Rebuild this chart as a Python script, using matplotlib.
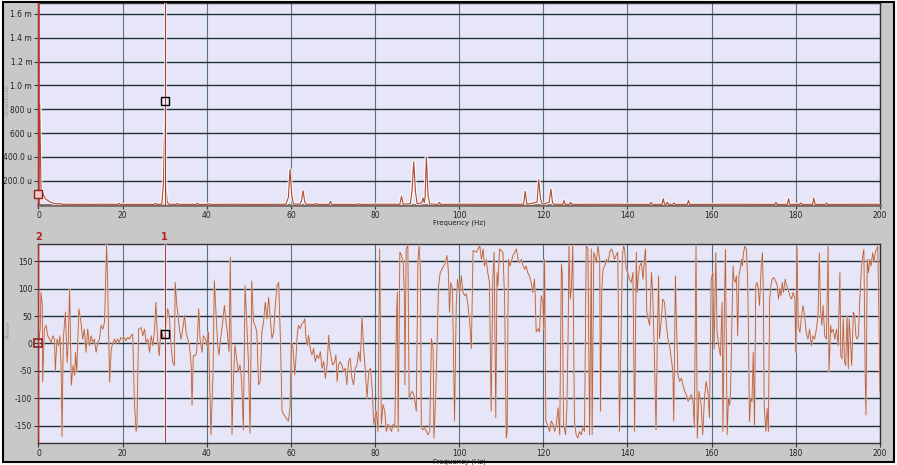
import matplotlib
matplotlib.use("Agg")
import matplotlib.pyplot as plt
from matplotlib.patches import Rectangle
from matplotlib.transforms import blended_transform_factory

# --- chart data ---
freq_ticks = [0, 20, 40, 60, 80, 100, 120, 140, 160, 180, 200]
mag_ticks = [200, 400, 600, 800, 1000, 1200, 1400, 1600]  # micro units
mag_tick_labels = ['200.0 u', '400.0 u', '600 u', '800 u', '1.0 m', '1.2 m', '1.4 m', '1.6 m']
phase_ticks = [-150, -100, -50, 0, 50, 100, 150]

# amplitude spectrum, micro units
mag_freq = [0.0, 0.3, 0.6, 0.9, 1.2, 1.5, 1.8, 2.2, 2.6, 3.0, 3.5, 4.0, 4.5, 5.0, 5.5, 6.5, 8.0,
            10.0, 12.0, 15.0, 18.0, 18.9, 19.2, 19.5, 24.0, 27.5, 27.8, 28.1, 29.3, 29.7, 30.0,
            30.3, 30.6, 31.0, 32.7, 33.0, 33.3, 37.5, 37.8, 38.1, 40.2, 40.5, 40.8, 47.0, 52.0,
            58.8, 59.4, 59.8, 60.2, 60.6, 62.1, 62.5, 62.9, 63.3, 63.7, 65.6, 65.9, 66.2, 69.1,
            69.4, 69.7, 75.8, 76.1, 76.4, 80.0, 85.9, 86.3, 86.7, 88.4, 88.8, 89.2, 89.6, 90.0,
            91.1, 91.4, 91.7, 91.9, 92.2, 92.6, 93.0, 95.0, 95.3, 95.6, 100.0, 110.0, 115.3, 115.7,
            116.1, 118.5, 118.9, 119.3, 119.6, 120.0, 121.4, 121.8, 122.2, 122.6, 124.6, 124.9,
            125.2, 126.2, 126.5, 126.8, 135.0, 145.3, 145.6, 145.9, 148.2, 148.5, 148.8, 149.2,
            149.5, 149.8, 150.8, 151.1, 151.4, 154.2, 154.5, 154.8, 165.0, 175.0, 175.3, 175.6,
            178.0, 178.3, 178.6, 180.9, 181.2, 181.5, 184.0, 184.3, 184.6, 187.0, 187.3, 187.6,
            200.0]
mag_val = [85, 840, 130, 110, 80, 60, 45, 35, 25, 18, 12, 8, 6, 10, 4, 3, 2,
           3, 2, 3, 2, 2, 10, 2, 2, 2, 12, 2, 3, 180, 660,
           150, 20, 3, 2, 10, 2, 2, 12, 2, 2, 8, 2, 3, 2,
           3, 60, 297, 80, 5, 3, 30, 117, 20, 3, 2, 10, 2, 2,
           28, 2, 2, 8, 2, 3, 3, 70, 3, 8, 120, 360, 110, 8,
           15, 55, 15, 60, 400, 80, 5, 2, 20, 2, 3, 2, 3, 110,
           3, 20, 210, 60, 15, 3, 20, 130, 15, 3, 2, 35,
           2, 2, 20, 2, 3, 2, 20, 2, 2, 50, 5, 2,
           20, 2, 2, 15, 2, 2, 35, 2, 3, 2, 20, 2,
           2, 50, 2, 2, 15, 2, 2, 55, 2, 2, 15, 2,
           3]

# phase spectrum, degrees
phase_freq = [0.0, 0.4, 0.6, 0.9, 1.0, 1.4, 1.8, 2.2, 2.6, 3.0, 3.4, 3.8, 4.0, 4.4, 4.8, 5.1, 5.4,
              5.6, 5.9, 6.4, 6.8, 7.1, 7.4, 7.8, 8.2, 8.6, 8.8, 9.1, 9.6, 10.1, 10.5, 10.9, 11.3,
              11.7, 12.1, 12.5, 12.9, 13.3, 13.7, 14.1, 14.5, 14.9, 15.3, 15.7, 16.2, 16.5, 16.9,
              17.3, 17.7, 18.1, 18.4, 18.8, 19.2, 19.6, 20.0, 20.4, 20.8, 21.2, 21.6, 22.0, 22.4,
              22.8, 23.2, 23.4, 23.8, 24.4, 24.8, 25.2, 25.6, 26.0, 26.4, 26.8, 27.2, 27.6, 27.9,
              28.3, 28.7, 29.1, 29.5, 29.9, 30.3, 30.7, 31.1, 31.5, 31.9, 32.3, 32.5, 32.9, 33.1,
              33.5, 33.9, 34.3, 34.7, 35.1, 35.5, 35.9, 36.3, 36.5, 36.8, 37.3, 37.6, 38.1, 38.4,
              38.9, 39.2, 39.7, 40.0, 40.4, 41.0, 41.5, 41.8, 42.1, 42.6, 42.9, 43.3, 43.7, 44.2,
              44.5, 44.8, 45.3, 45.6, 46.0, 46.3, 46.7, 47.1, 47.5, 47.9, 48.3, 48.7, 49.1, 49.5,
              49.9, 50.3, 50.7, 51.1, 51.5, 51.9, 52.3, 52.7, 53.1, 53.5, 53.9, 54.3, 54.7, 55.1,
              55.5, 55.9, 56.3, 56.7, 57.1, 57.5, 57.9, 58.3, 58.8, 59.4, 59.8, 60.1, 60.5, 60.9,
              61.2, 61.5, 61.8, 62.2, 62.6, 63.0, 63.3, 63.6, 63.9, 64.2, 64.6, 65.0, 65.4, 65.8,
              66.2, 66.6, 67.0, 67.4, 67.8, 68.2, 68.6, 69.0, 69.2, 69.6, 69.9, 70.4, 70.7, 71.0,
              71.3, 71.7, 72.1, 72.5, 72.9, 73.3, 73.7, 74.1, 74.5, 74.9, 75.3, 75.7, 76.1, 76.5,
              76.9, 77.3, 77.7, 78.1, 78.5, 78.9, 79.3, 79.7, 80.3, 80.7, 81.1, 81.5, 81.9, 82.3,
              82.7, 83.1, 83.5, 83.9, 84.3, 84.7, 85.1, 85.3, 85.5, 85.9, 86.3, 86.7, 87.0, 87.1,
              87.4, 87.8, 88.1, 88.4, 88.8, 89.2, 89.6, 89.8, 90.2, 90.5, 90.8, 91.0, 91.4, 91.8,
              92.2, 92.6, 93.0, 93.4, 93.8, 94.0, 94.4, 94.8, 95.1, 95.5, 95.9, 96.3, 96.7, 97.1,
              97.4, 97.7, 98.0, 98.4, 98.9, 99.3, 99.6, 100.1, 100.5, 100.9, 101.3, 101.7, 102.1,
              102.5, 102.9, 103.3, 104.1, 104.9, 105.3, 105.7, 106.0, 106.4, 106.8, 107.2, 107.6,
              108.0, 108.3, 108.7, 109.0, 109.2, 109.6, 110.0, 110.4, 110.8, 111.2, 111.4, 111.7,
              112.1, 112.8, 113.2, 113.6, 114.0, 114.4, 114.8, 115.2, 115.6, 115.9, 116.3, 116.7,
              117.1, 117.5, 117.9, 118.1, 118.3, 118.7, 119.1, 119.5, 119.9, 120.1, 120.3, 120.6,
              120.9, 121.5, 121.9, 122.3, 122.7, 123.1, 123.5, 123.9, 124.3, 124.5, 124.8, 125.3,
              125.6, 125.9, 126.1, 126.4, 126.7, 127.0, 127.4, 127.8, 128.2, 128.6, 129.0, 129.4,
              129.8, 130.2, 130.6, 130.8, 131.0, 131.4, 131.6, 132.0, 132.2, 132.6, 133.0, 133.4,
              133.6, 133.9, 134.2, 134.6, 135.0, 135.4, 135.8, 136.2, 136.5, 136.9, 137.3, 137.7,
              138.1, 138.8, 139.1, 139.3, 139.7, 140.1, 140.5, 140.9, 141.3, 141.7, 142.1, 142.3,
              142.6, 142.9, 143.3, 143.7, 144.1, 144.3, 144.6, 144.9, 145.3, 145.7, 146.0, 146.4,
              146.8, 147.1, 147.4, 147.6, 148.0, 148.4, 148.8, 149.2, 149.6, 150.0, 150.4, 150.8,
              151.0, 151.4, 151.6, 152.0, 152.4, 152.8, 153.2, 153.6, 154.0, 154.4, 154.8, 155.2,
              155.6, 155.9, 156.3, 156.6, 157.0, 157.5, 157.9, 158.3, 158.7, 159.1, 159.5, 159.9,
              160.3, 160.6, 161.0, 161.3, 161.7, 162.1, 162.5, 162.7, 163.1, 163.3, 163.7, 164.0,
              164.3, 164.5, 164.8, 165.1, 165.3, 165.6, 165.9, 166.2, 166.5, 166.8, 167.1, 167.3,
              167.6, 167.9, 168.3, 168.6, 168.8, 169.0, 169.3, 169.6, 169.9, 170.2, 170.5, 170.8,
              171.1, 171.4, 171.8, 172.1, 172.3, 172.5, 172.9, 173.2, 173.5, 173.8, 174.1, 174.4,
              174.8, 175.2, 175.6, 175.9, 176.2, 176.5, 176.8, 177.1, 177.5, 177.8, 178.2, 178.6,
              179.0, 179.4, 179.8, 180.0, 180.3, 180.6, 181.0, 181.3, 181.7, 182.1, 182.5, 182.9,
              183.3, 183.7, 184.1, 184.5, 184.9, 185.3, 185.6, 185.9, 186.2, 186.5, 186.9, 187.3,
              187.7, 187.9, 188.3, 188.5, 188.9, 189.3, 189.7, 190.1, 190.5, 190.7, 191.0, 191.3,
              191.6, 191.9, 192.2, 192.5, 192.7, 193.0, 193.3, 193.7, 194.0, 194.3, 194.6, 194.9,
              195.2, 195.6, 195.9, 196.2, 196.5, 196.7, 197.0, 197.3, 197.6, 197.9, 198.3, 198.6,
              198.9, 199.2, 199.5, 199.8, 200.0]
phase_deg = [0, 26, 93, 69, -70, 26, 33, 14, 8, 2, 14, 8, -49, 8, -4, 14, -46,
             -169, 8, 57, -34, 8, 99, -76, -40, -58, -16, -52, 63, 39, 8, 26, -16,
             26, -4, 14, 2, 8, -16, 2, 8, 33, 26, 39, 180, 87, -70,
             -10, 2, 8, 0, 8, 2, 11, 8, 11, 5, 11, 8, 14, 17,
             -106, -160, -148, 26, 29, 14, 26, 2, 8, -16, 14, -4, 26, 75,
             8, -22, 26, 14, 8, 33, 63, 51, -4, -34, -40, 111, 69, 57,
             26, 8, 26, 51, 20, 8, -4, -40, -112, -22, -22, -16, 63, 8,
             -16, 14, 8, -4, 21, -166, -51, 114, 69, -3, -21, 9, 33, 69,
             45, 27, -15, 157, -166, -75, -3, -27, -51, -39, -69, -157, 105, 39,
             -33, -163, 114, 39, 33, 21, -75, -69, 21, 39, 75, 45, 84, 45,
             9, 21, 69, 105, 111, 9, -123, -129, -135, -141, -117, 3, -9, -57,
             -27, 15, 33, 27, 36, 39, 45, 9, -3, 15, -9, -21, -9, -33,
             -21, -27, -15, -45, -33, -63, -39, 15, -9, -27, -39, -33, -21, -69,
             -39, -33, -39, -51, -45, -75, -33, -27, -63, -75, -45, -39, -15, -33,
             48, -9, -51, -99, -51, -45, -81, -147, -123, -160, 172, -147, -111, -123,
             -160, -147, -153, -160, -147, -153, 51, 93, -160, 166, 160, 147, 81, -75,
             172, 178, -99, -93, -87, -93, -111, -123, 153, 178, 129, -153, -157, -153,
             -160, -166, -160, 9, -9, -172, -99, 21, 105, 129, 135, 141, 147, 160,
             135, 57, 111, 99, -141, 69, 117, 93, 123, 93, 87, 90, 69,
             39, -9, 169, 166, 178, 153, 172, 141, 153, 129, 111, -123,
             117, 166, -135, 129, 105, 172, 169, 166, 81, -172, -160, 153,
             141, 160, 166, 172, 153, 147, 153, 141, 135, 141, 129, 123,
             111, 93, 117, 81, 21, 27, 21, 87, 75, 27, 153, -141,
             -147, -160, -141, -147, -160, -147, -117, -166, 144, 129, -147, -166,
             -117, 21, 178, 81, 105, 178, -141, -166, -172, -160, -166, -153,
             -160, 178, 172, -3, -166, 172, -166, 166, 160, 147, 178, 153,
             -123, 99, 135, 141, 153, 147, 166, 172, 166, 153, 160, 166,
             -160, 160, 178, 172, 135, 129, 117, 111, 129, -160, 166, 93,
             123, 141, 147, 117, 160, 172, 57, 45, 33, 129, 93, -21,
             -157, 9, 123, 9, 39, 81, 75, 39, 9, -3, -27, -51,
             -141, 123, 51, -57, -69, -63, -75, -87, -93, -105, -99, -93,
             -105, -153, 178, -172, -87, -111, -166, -99, -69, -87, -135, 117,
             129, -10, 165, 20, -4, -22, 75, -160, 93, 171, -166, -100,
             -112, -88, 26, 141, 117, 111, 123, 14, 123, 135, 153, 141,
             165, 177, 171, 105, -4, -142, -100, -106, -16, -148, 105, 111,
             99, 69, 141, 165, 93, -112, -160, -118, -160, 81, 105, 117,
             120, 114, 105, 81, 99, 87, 111, 93, 117, 105, 99, 87,
             81, 93, 81, -16, 177, 33, 20, 45, 69, 51, 20, 8,
             26, -4, 14, 8, 26, 51, 165, 63, 33, 69, 14, 8,
             177, -52, 33, 20, 26, 8, 26, -4, 129, -22, -28, 45,
             -34, -40, 51, -46, 45, 8, -40, 57, 51, 14, 8, 14,
             75, 135, 159, 171, -52, -130, 153, 129, 153, 141, 165, 147,
             165, 171, 177, 39, -88]

# cursors: 1 at 30 Hz, 2 at 0 Hz
cursor_names = ['1', '2']
cursor_freq = [30, 0]
cursor_mag = [870, 85]
cursor_phase = [18, 0]

BG = '#e6e6f8'
TRACE = '#b04a33'
PHASE = '#b8603f'
HGRID = '#1f3236'
VGRID = '#56767c'
TXT = '#222222'


def style_axes(ax, yticks, yticklabels):
    ax.set_facecolor(BG)
    ax.set_xlim(0, 200)
    ax.set_xticks(freq_ticks)
    ax.set_xticklabels([str(t) for t in freq_ticks])
    ax.set_yticks(yticks)
    ax.set_yticklabels(yticklabels)
    ax.xaxis.grid(True, color=VGRID, lw=0.8)
    ax.yaxis.grid(True, color=HGRID, lw=1.0)
    ax.set_axisbelow(True)
    ax.tick_params(axis='both', direction='out', length=3, width=0.8, color='#333333',
                   labelsize=5.5, labelcolor=TXT, pad=1.5)
    for s in ax.spines.values():
        s.set_color('#333333')
        s.set_linewidth(1.0)
    ax.set_xlabel('Frequency (Hz)', fontsize=5, color=TXT, labelpad=0)


fig = plt.figure(figsize=(8.97, 4.65), dpi=100, facecolor='white')
fig.add_artist(Rectangle((0.0028, 0.0065), 0.9933, 0.990, transform=fig.transFigure,
                         facecolor='#c8c8c8', edgecolor='black', lw=1.5, zorder=-1))

ax1 = fig.add_axes([0.0429, 0.560, 0.938, 0.433])
ax2 = fig.add_axes([0.0429, 0.0473, 0.938, 0.428])

# --- Amplitude ---
style_axes(ax1, mag_ticks, mag_tick_labels)
ax1.set_ylim(0, 1690)
ax1.spines['bottom'].set_color('#7a6a66')
ax1.spines['bottom'].set_linewidth(2.0)
ax1.plot(mag_freq, mag_val, color='white', lw=2.4, alpha=0.8, zorder=3)
ax1.plot(mag_freq, mag_val, color=TRACE, lw=0.8, zorder=4)
ax1.axvline(cursor_freq[1], color='#c0302a', lw=1.8, zorder=5)
ax1.axvline(cursor_freq[0], color='white', lw=2.0, alpha=0.8, zorder=5)
ax1.axvline(cursor_freq[0], color='#a0403a', lw=0.8, zorder=5)
ax1.plot(cursor_freq[0], cursor_mag[0], marker='s', ms=6, mfc='none', mec='black', mew=1.0, zorder=6)
ax1.plot(cursor_freq[1], cursor_mag[1], marker='s', ms=6, mfc='#f0c8c8', mec='#902020', mew=1.0,
         zorder=6, clip_on=False)
fig.text(0.006, 0.785, 'Amplitude', rotation=90, fontsize=4.5, color='#999999', va='center')

# --- Phase ---
style_axes(ax2, phase_ticks, [str(t) for t in phase_ticks])
ax2.set_ylim(-181, 181)
ax2.plot(phase_freq, phase_deg, color='#f0d8cc', lw=1.6, alpha=0.6, zorder=3)
ax2.plot(phase_freq, phase_deg, color=PHASE, lw=0.6, zorder=4)
ax2.axvline(cursor_freq[1], color='#c0302a', lw=1.0, zorder=5)
ax2.axvline(cursor_freq[0], color='white', lw=1.8, alpha=0.7, zorder=5)
ax2.axvline(cursor_freq[0], color='#a0403a', lw=0.8, zorder=5)
ax2.plot(cursor_freq[0], cursor_phase[0], marker='s', ms=6, mfc='none', mec='black', mew=1.0, zorder=6)
ax2.plot(cursor_freq[1], cursor_phase[1], marker='s', ms=6, mfc='none', mec='#902020', mew=1.2,
         zorder=6, clip_on=False)
trans = blended_transform_factory(ax2.transData, ax2.transAxes)
for name, f in zip(cursor_names, cursor_freq):
    ax2.text(f, 1.01, name, transform=trans, ha='center', va='bottom', fontsize=7,
             color='#b22222', fontweight='bold')
fig.text(0.006, 0.29, 'Phase', rotation=90, fontsize=4.5, color='#999999', va='center')

fig.savefig('out.png', dpi=100, facecolor=fig.get_facecolor())
